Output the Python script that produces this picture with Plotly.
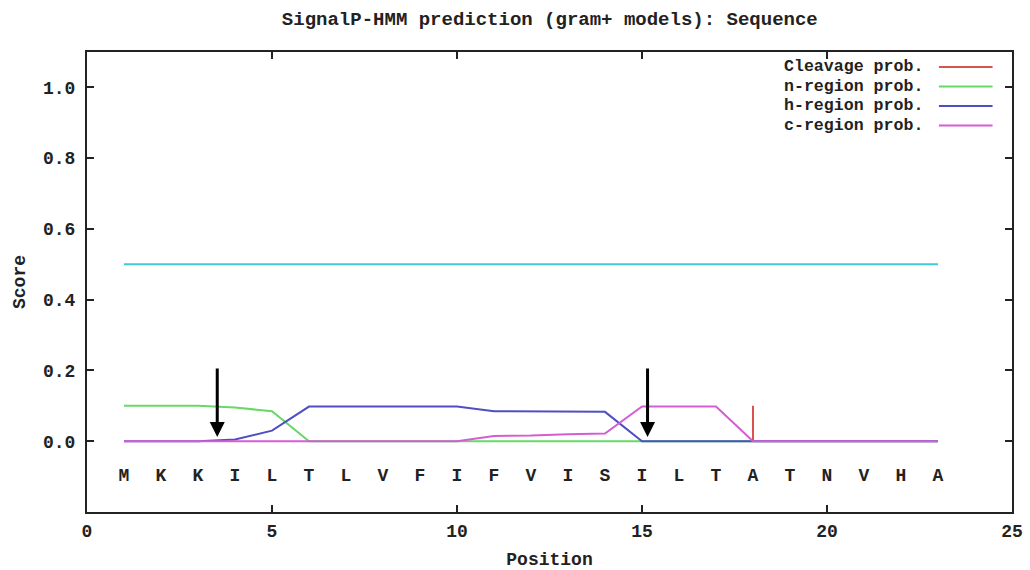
import plotly.graph_objects as go

# ---- data ----
positions = list(range(1, 24))
sequence = list("MKKILTLVFIFVISILTATNVHA")
cleavage = [0, 0, 0, 0, 0, 0, 0, 0, 0, 0, 0, 0, 0, 0, 0, 0, 0, 0.1, 0, 0, 0, 0, 0]
n_region = [0.1, 0.1, 0.1, 0.095, 0.085, 0, 0, 0, 0, 0, 0, 0, 0, 0, 0, 0, 0, 0, 0, 0, 0, 0, 0]
h_region = [0, 0, 0, 0.005, 0.03, 0.098, 0.098, 0.098, 0.098, 0.098, 0.085, 0.084, 0.083, 0.083,
            0, 0, 0, 0, 0, 0, 0, 0, 0]
c_region = [0, 0, 0, 0, 0, 0, 0, 0, 0, 0, 0.015, 0.016, 0.02, 0.022, 0.098, 0.098, 0.098, 0,
            0, 0, 0, 0, 0]
threshold = 0.5
arrow_positions = [3.52, 15.15]
legend_labels = ["Cleavage prob.", "n-region prob.", "h-region prob.", "c-region prob."]
x_ticks = [0, 5, 10, 15, 20, 25]
y_ticks = [0.0, 0.2, 0.4, 0.6, 0.8, 1.0]

colors = {
    "cleavage": "#d9534f",
    "n": "#66d966",
    "h": "#4f4fc4",
    "c": "#d65cd6",
    "thr": "#3fc9d9",
}

FONT = "Liberation Mono"
FS = 18
TXT = "#222"

fig = go.Figure()

# cleavage drawn as impulses
cx, cy = [], []
for p, v in zip(positions, cleavage):
    if v > 0:
        cx += [p, p, None]
        cy += [0, v, None]
fig.add_trace(go.Scatter(x=cx, y=cy, mode="lines", line=dict(color=colors["cleavage"], width=2),
                         showlegend=False, hoverinfo="skip"))
fig.add_trace(go.Scatter(x=[positions[0], positions[-1]], y=[threshold, threshold], mode="lines",
                         line=dict(color=colors["thr"], width=2), showlegend=False))
fig.add_trace(go.Scatter(x=positions, y=n_region, mode="lines",
                         line=dict(color=colors["n"], width=2), showlegend=False))
fig.add_trace(go.Scatter(x=positions, y=h_region, mode="lines",
                         line=dict(color=colors["h"], width=2), showlegend=False))
fig.add_trace(go.Scatter(x=positions, y=c_region, mode="lines",
                         line=dict(color=colors["c"], width=2), showlegend=False))

# sequence letters
fig.add_trace(go.Scatter(x=positions, y=[-0.1] * len(positions), mode="text", text=sequence,
                         textfont=dict(family=FONT, size=FS, color=TXT, weight="bold"),
                         showlegend=False, hoverinfo="skip"))

annotations = []
shapes = []
# arrows
for ap in arrow_positions:
    annotations.append(dict(x=ap, y=0.012, ax=ap, ay=0.21, xref="x", yref="y", axref="x", ayref="y",
                            showarrow=True, arrowhead=2, arrowsize=1, arrowwidth=3,
                            arrowcolor="black", text=""))

# custom legend (text left of line sample)
leg_colors = [colors["cleavage"], colors["n"], colors["h"], colors["c"]]
row_h = 19.5 / 460
leg_y = [0.9674 - i * row_h for i in range(len(legend_labels))]
for lab, col, ly in zip(legend_labels, leg_colors, leg_y):
    annotations.append(dict(x=0.906, y=ly, xref="paper", yref="paper", text=lab, showarrow=False,
                            xanchor="right", yanchor="middle",
                            font=dict(family=FONT, size=16.6, color=TXT, weight="bold")))
    shapes.append(dict(type="line", xref="paper", yref="paper", x0=0.921, x1=0.979, y0=ly, y1=ly,
                       line=dict(color=col, width=2)))

tickfont = dict(family=FONT, size=FS, color=TXT, weight="bold")

fig.update_layout(
    width=1030, height=570,
    margin=dict(l=87, r=18, t=52, b=58, autoexpand=False),
    paper_bgcolor="white", plot_bgcolor="white",
    title=dict(text="SignalP-HMM prediction (gram+ models): Sequence", x=0.5338, xanchor="center",
               y=0.967, yanchor="middle", font=dict(family=FONT, size=19, color=TXT, weight="bold")),
    annotations=annotations,
    shapes=shapes,
    xaxis=dict(range=[0, 25], tickvals=x_ticks, ticktext=[str(t) for t in x_ticks],
               automargin=False,
               showgrid=False, zeroline=False, showline=True, linecolor=TXT, linewidth=2,
               mirror="ticks", ticks="inside", ticklen=7, tickwidth=2, tickcolor=TXT,
               tickfont=tickfont, ticklabelstandoff=1,
               title=dict(text="Position", font=tickfont, standoff=16)),
    yaxis=dict(range=[-0.2, 1.1], tickvals=y_ticks, ticktext=[f"{t:.1f}" for t in y_ticks],
               automargin=False,
               showgrid=False, zeroline=False, showline=True, linecolor=TXT, linewidth=2,
               mirror="ticks", ticks="inside", ticklen=7, tickwidth=2, tickcolor=TXT,
               tickfont=tickfont, ticklabelstandoff=6,
               title=dict(text="Score", font=tickfont, standoff=13)),
)

fig.write_html("out.html", config={"displayModeBar": False},
               post_script="document.body.style.margin='0';")
